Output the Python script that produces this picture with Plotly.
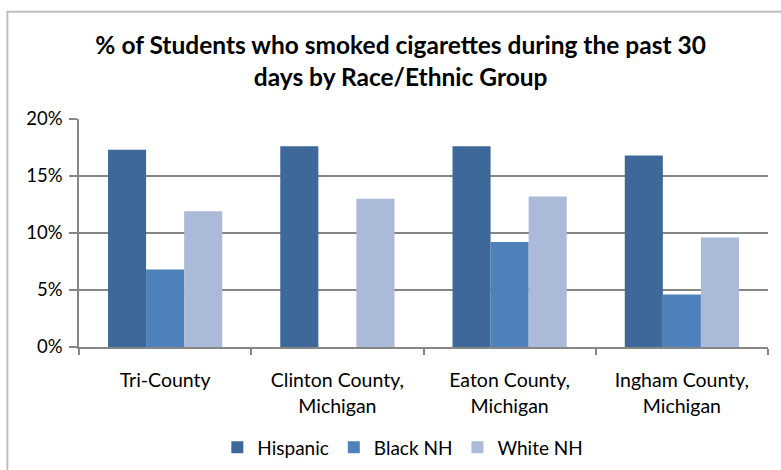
import plotly.graph_objects as go

categories = ["Tri-County", "Clinton County,<br>Michigan", "Eaton County,<br>Michigan", "Ingham County,<br>Michigan"]
series_names = ["Hispanic", "Black NH", "White NH"]
hispanic = [17.3, 17.6, 17.6, 16.8]
black_nh = [6.8, None, 9.2, 4.6]
white_nh = [11.9, 13.0, 13.2, 9.6]
colors = ["#3E6899", "#4F81BD", "#AABAD8"]
y_ticks = [0, 5, 10, 15, 20]
y_tick_labels = ["0%", "5%", "10%", "15%", "20%"]

FONT = "Lato"
fig = go.Figure()
for name, vals, col in zip(series_names, [hispanic, black_nh, white_nh], colors):
    fig.add_trace(go.Bar(name=name, x=categories, y=vals, marker=dict(color=col, line=dict(width=0))))

fig.update_layout(
    width=781, height=470,
    barmode="group", bargap=0.337, bargroupgap=0,
    plot_bgcolor="white", paper_bgcolor="white",
    margin=dict(l=79, r=13, t=119, b=123, autoexpand=False),
    title=dict(text="<b>% of Students who smoked cigarettes during the past 30<br>days by Race/Ethnic Group</b>",
               x=0.513, xanchor="center", y=0.885, yanchor="middle",
               font=dict(family=FONT, size=24.5, color="#000000")),
    font=dict(family=FONT, size=18, color="#000000"),
    legend=dict(orientation="h", x=0.47, xanchor="center", y=-0.44, yanchor="middle",
                font=dict(family=FONT, size=19, color="#000000"), itemwidth=30, traceorder="normal"),
    xaxis=dict(showline=True, linecolor="#868686", linewidth=1.5, ticks="outside", tickson="boundaries",
               ticklen=6, tickcolor="#868686", tickwidth=1.5, showgrid=False, ticklabelstandoff=15,
               tickfont=dict(family=FONT, size=19.5, color="#000000")),
    yaxis=dict(range=[0, 20], tickvals=y_ticks, ticktext=y_tick_labels, showline=True,
               linecolor="#868686", linewidth=1.5, ticks="outside", ticklen=8, tickcolor="#868686",
               tickwidth=1.5, showgrid=True, gridcolor="#868686", gridwidth=1.5, zeroline=False,
               ticklabelstandoff=3,
               tickfont=dict(family=FONT, size=18.5, color="#000000")),
)
fig.add_shape(type="rect", xref="paper", yref="paper", x0=-0.104, x1=1.2, y0=-1.0, y1=1.47,
              line=dict(color="#BFBFBF", width=2), fillcolor="rgba(0,0,0,0)", layer="below")
fig.write_html("out.html", config={"displayModeBar": False},
               post_script="document.body.style.margin='0';")
